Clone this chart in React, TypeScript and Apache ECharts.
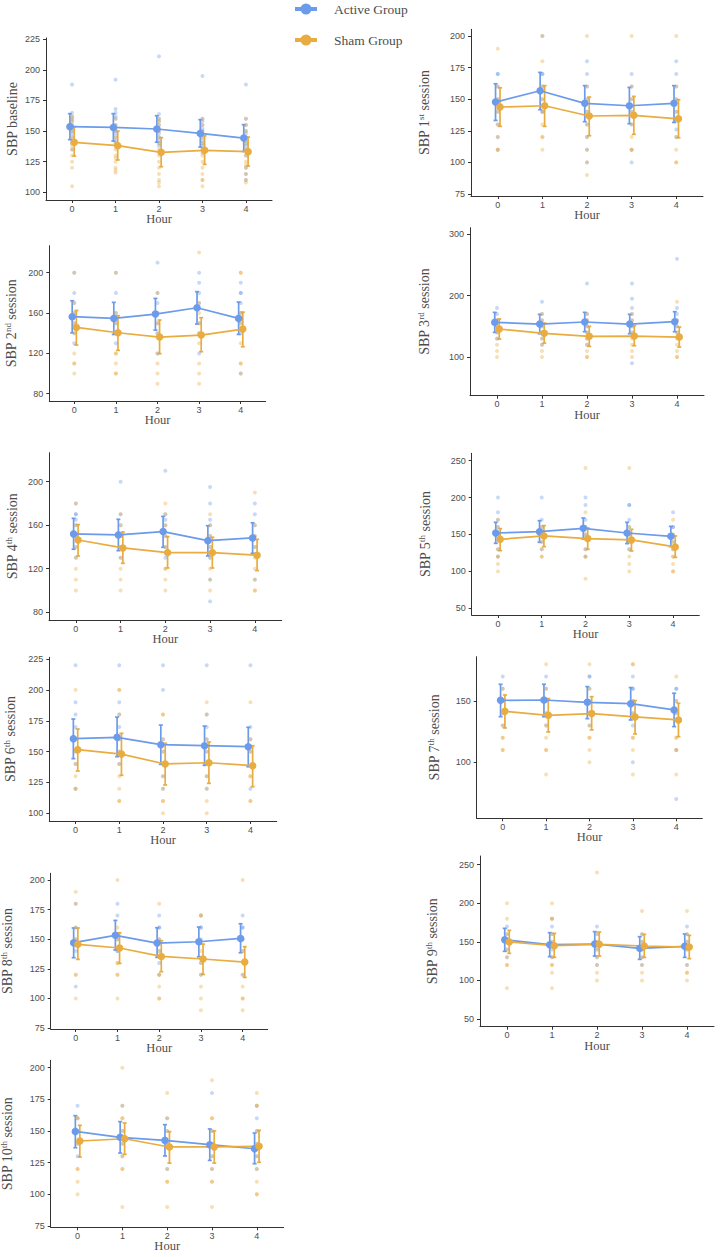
import React, { useEffect, useRef } from 'react';
import * as echarts from 'echarts';

// ---------- DATA ----------
const hours = [0, 1, 2, 3, 4];

const yTitles = [
  '{t|SBP baseline}',
  '{t|SBP 1}{s|st}{t| session}',
  '{t|SBP 2}{s|nd}{t| session}',
  '{t|SBP 3}{s|rd}{t| session}',
  '{t|SBP 4}{s|th}{t| session}',
  '{t|SBP 5}{s|th}{t| session}',
  '{t|SBP 6}{s|th}{t| session}',
  '{t|SBP 7}{s|th}{t| session}',
  '{t|SBP 8}{s|th}{t| session}',
  '{t|SBP 9}{s|th}{t| session}',
  '{t|SBP 10}{s|th}{t| session}',
];

const yTickValues = [
  [100, 125, 150, 175, 200, 225],
  [75, 100, 125, 150, 175, 200],
  [80, 120, 160, 200],
  [100, 200, 300],
  [80, 120, 160, 200],
  [50, 100, 150, 200, 250],
  [100, 125, 150, 175, 200, 225],
  [100, 150],
  [75, 100, 125, 150, 175, 200],
  [50, 100, 150, 200, 250],
  [75, 100, 125, 150, 175, 200],
];

const yRanges = [
  [93.7, 226],
  [73.4, 205.3],
  [72.8, 226.8],
  [37, 310.8],
  [72.9, 226.6],
  [40.9, 260],
  [93.8, 226.4],
  [54.3, 186.1],
  [74.2, 205.7],
  [40, 261.3],
  [74, 205.8],
];

const activeMean = [
  [153.6, 153.0, 151.7, 148.1, 144.3],
  [147.7, 156.7, 146.7, 144.8, 146.7],
  [156.4, 154.7, 159.0, 165.3, 154.7],
  [156.5, 153.8, 157.1, 153.8, 157.6],
  [152.0, 151.1, 154.1, 145.8, 148.3],
  [152.0, 153.8, 158.4, 152.0, 147.5],
  [160.5, 161.6, 155.6, 154.8, 154.0],
  [150.5, 150.8, 148.9, 147.8, 142.7],
  [147.1, 153.3, 146.8, 147.9, 150.7],
  [152.8, 146.3, 147.2, 141.6, 144.2],
  [149.7, 145.0, 142.6, 139.2, 136.0],
];
const activeHigh = [
  [164.2, 164.2, 162.5, 159.3, 155.2],
  [162.2, 171.2, 160.7, 159.3, 160.7],
  [172.2, 170.6, 174.5, 181.2, 170.9],
  [172.8, 169.6, 172.8, 169.6, 173.9],
  [166.3, 165.4, 168.1, 159.5, 162.2],
  [166.5, 168.7, 172.3, 166.5, 161.0],
  [176.4, 178.0, 171.5, 170.7, 169.7],
  [163.6, 163.6, 161.7, 160.9, 156.3],
  [159.5, 165.9, 159.7, 160.3, 163.1],
  [167.5, 161.9, 163.2, 156.7, 160.2],
  [162.1, 157.4, 155.0, 151.6, 148.4],
];
const activeLow = [
  [143.0, 141.8, 140.9, 136.9, 133.4],
  [133.2, 141.7, 132.2, 130.6, 131.6],
  [140.4, 138.8, 143.1, 149.1, 138.8],
  [140.2, 138.0, 141.3, 138.0, 141.3],
  [137.9, 136.6, 139.7, 131.7, 134.2],
  [138.0, 139.4, 143.9, 137.6, 133.5],
  [144.3, 145.9, 139.7, 138.9, 137.8],
  [137.2, 137.2, 135.6, 134.5, 129.1],
  [134.4, 140.9, 134.7, 135.2, 138.6],
  [137.7, 130.8, 131.6, 127.3, 129.9],
  [136.8, 132.6, 130.3, 126.8, 124.2],
];

const shamMean = [
  [140.8, 138.1, 132.6, 134.3, 133.2],
  [143.8, 144.8, 136.7, 137.2, 134.5],
  [145.8, 140.5, 136.2, 138.2, 144.1],
  [145.7, 138.6, 133.7, 134.2, 132.6],
  [146.4, 139.1, 134.8, 134.8, 132.4],
  [143.5, 148.0, 144.4, 142.6, 133.1],
  [151.6, 148.0, 140.0, 141.0, 138.6],
  [141.6, 138.3, 139.7, 137.0, 134.5],
  [145.7, 142.6, 135.5, 133.3, 130.7],
  [149.8, 145.0, 146.8, 144.6, 143.3],
  [142.1, 143.9, 137.4, 137.4, 137.9],
];
const shamHigh = [
  [153.6, 150.0, 144.6, 146.2, 145.1],
  [159.0, 160.7, 151.7, 152.2, 149.6],
  [162.6, 157.4, 153.1, 155.4, 160.9],
  [162.0, 155.4, 150.0, 151.1, 148.9],
  [160.5, 153.8, 149.5, 148.9, 147.0],
  [157.9, 162.0, 158.8, 157.0, 148.0],
  [168.3, 164.8, 156.7, 157.8, 154.8],
  [154.9, 151.9, 153.5, 150.3, 148.1],
  [159.5, 155.5, 148.8, 145.9, 143.7],
  [164.9, 161.0, 162.7, 159.7, 158.4],
  [154.5, 156.3, 149.5, 150.0, 150.5],
];
const shamLow = [
  [129.6, 126.4, 120.9, 122.8, 121.5],
  [128.5, 128.5, 121.1, 122.2, 119.5],
  [128.3, 123.0, 119.7, 121.7, 126.6],
  [129.3, 122.8, 117.4, 118.5, 116.3],
  [131.7, 125.0, 120.7, 120.7, 118.3],
  [128.1, 133.5, 129.9, 127.7, 119.0],
  [134.3, 130.8, 123.0, 124.3, 121.6],
  [128.0, 124.7, 126.4, 123.1, 120.9],
  [133.0, 129.6, 122.6, 120.3, 117.8],
  [135.1, 129.9, 131.6, 129.9, 128.2],
  [129.5, 131.6, 124.7, 124.7, 125.3],
];

// individual readings per panel, per hour
const activeRaw = [
  [
    [188, 165, 162, 160, 158, 155, 152, 150, 148, 145, 142, 140, 135],
    [192, 168, 165, 162, 160, 155, 152, 150, 148, 145, 142, 140],
    [211, 164, 160, 158, 155, 152, 150, 148, 145, 142, 140, 138],
    [195, 160, 158, 155, 152, 150, 148, 145, 142, 140, 138, 135, 132],
    [188, 160, 155, 150, 148, 145, 142, 140, 138, 135, 130, 120, 115, 110],
  ],
  [
    [170, 170, 160, 150, 140, 130, 120, 110],
    [200, 170, 170, 160, 150, 140, 140],
    [180, 170, 160, 150, 140, 130, 120, 110, 100],
    [170, 160, 150, 140, 130, 110, 100],
    [180, 170, 160, 150, 140, 133, 126, 120],
  ],
  [
    [200, 180, 170, 160, 150, 140, 130],
    [200, 180, 160, 150, 130],
    [210, 180, 170, 160, 150, 140, 120],
    [200, 190, 180, 170, 150, 140, 120],
    [190, 180, 180, 170, 160, 150, 140, 100],
  ],
  [
    [180, 170, 160, 150, 140, 130],
    [190, 170, 160, 150, 140, 130, 120],
    [220, 170, 160, 150, 140, 130, 120],
    [220, 195, 180, 170, 160, 150, 140, 90],
    [260, 180, 170, 160, 150, 140],
  ],
  [
    [180, 170, 170, 165, 160, 150, 140, 130],
    [200, 170, 160, 150, 140, 130],
    [210, 170, 165, 160, 150, 140, 130],
    [195, 180, 165, 160, 150, 140, 130, 110, 90],
    [180, 170, 160, 150, 140, 110],
  ],
  [
    [200, 180, 170, 160, 150, 130, 120],
    [200, 170, 160, 150, 140, 130],
    [200, 190, 170, 160, 150, 130, 120],
    [190, 190, 170, 160, 150, 140, 130],
    [180, 160, 160, 150, 140, 130],
  ],
  [
    [220, 190, 180, 170, 160, 150, 140, 120],
    [220, 190, 180, 170, 160, 150, 140],
    [220, 200, 160, 150, 130, 120],
    [220, 180, 170, 160, 150, 130, 120],
    [220, 170, 160, 150, 120],
  ],
  [
    [170, 160, 150, 140, 130],
    [170, 160, 150, 140, 130],
    [170, 170, 160, 150, 140, 130],
    [170, 160, 160, 150, 140, 130, 100],
    [160, 160, 150, 140, 110, 70],
  ],
  [
    [180, 160, 150, 140, 110],
    [180, 170, 150, 140, 140],
    [170, 160, 160, 150, 140, 130, 120],
    [170, 160, 160, 150, 130, 120],
    [170, 160, 160, 150, 140, 120],
  ],
  [
    [170, 160, 150, 140, 130],
    [180, 170, 160, 150, 140, 130],
    [170, 160, 150, 140, 130, 120],
    [160, 150, 140, 130, 120],
    [170, 160, 150, 140, 120],
  ],
  [
    [170, 160, 150, 140, 130],
    [170, 150, 140, 130],
    [160, 150, 140, 120],
    [180, 150, 140, 130, 120],
    [170, 160, 150, 140, 130, 120],
  ],
];

const shamRaw = [
  [
    [162, 160, 158, 155, 150, 145, 140, 138, 135, 130, 125, 120, 105],
    [160, 155, 150, 145, 140, 135, 130, 128, 125, 120, 118, 116],
    [160, 158, 155, 150, 145, 140, 135, 130, 125, 120, 115, 110, 108, 105],
    [160, 155, 150, 145, 140, 135, 130, 125, 120, 115, 110, 110, 105],
    [160, 155, 150, 145, 140, 135, 130, 125, 122, 120, 115, 110, 108],
  ],
  [
    [190, 160, 150, 140, 130, 120, 110, 110],
    [200, 180, 160, 150, 140, 130, 120, 120, 110],
    [200, 160, 150, 140, 130, 120, 110, 100, 90],
    [200, 160, 150, 140, 130, 120, 110, 110],
    [200, 160, 150, 140, 120, 110, 100, 100],
  ],
  [
    [200, 170, 160, 150, 140, 120, 110, 110, 100],
    [200, 160, 150, 140, 120, 120, 110, 100, 100],
    [180, 160, 150, 140, 120, 110, 100, 90],
    [220, 170, 160, 150, 140, 130, 110, 100, 90],
    [200, 200, 160, 150, 130, 110, 110, 100],
  ],
  [
    [160, 150, 140, 130, 120, 110, 100],
    [170, 160, 150, 140, 130, 120, 110, 100],
    [170, 160, 150, 140, 130, 120, 110, 100, 100],
    [170, 160, 150, 140, 130, 120, 110, 100],
    [190, 160, 150, 140, 130, 120, 110, 100, 100],
  ],
  [
    [180, 160, 150, 140, 130, 120, 110, 100],
    [170, 160, 150, 140, 130, 120, 110, 100],
    [180, 170, 160, 150, 140, 120, 120, 110, 100],
    [170, 160, 150, 140, 130, 120, 110, 100],
    [190, 160, 150, 140, 130, 120, 110, 100, 100],
  ],
  [
    [170, 160, 150, 130, 120, 120, 110, 100],
    [160, 150, 140, 130, 120, 120],
    [240, 180, 160, 150, 130, 120, 120, 90],
    [240, 160, 150, 140, 130, 120, 110, 100],
    [170, 150, 140, 130, 120, 120, 110, 100, 100],
  ],
  [
    [200, 160, 150, 140, 130, 120, 120],
    [200, 200, 180, 160, 150, 140, 130, 120, 110, 110],
    [180, 180, 160, 150, 130, 120, 110, 110, 100],
    [190, 180, 160, 150, 130, 120, 110, 100],
    [190, 160, 150, 130, 130, 110, 110],
  ],
  [
    [160, 150, 140, 130, 120, 120, 110, 110],
    [180, 160, 150, 140, 130, 120, 110, 110, 90],
    [180, 160, 150, 140, 130, 120, 120, 110, 100],
    [180, 180, 150, 140, 120, 120, 110, 90],
    [170, 150, 140, 120, 120, 110, 110, 90],
  ],
  [
    [190, 180, 160, 150, 120, 120, 100],
    [200, 160, 150, 130, 130, 120, 120, 100],
    [180, 150, 140, 120, 120, 110, 100, 100],
    [170, 170, 140, 130, 120, 110, 100, 90],
    [200, 150, 140, 120, 110, 100, 100, 90],
  ],
  [
    [200, 180, 160, 150, 140, 130, 120, 120, 90],
    [200, 180, 180, 160, 150, 130, 120, 120, 110, 90],
    [240, 160, 150, 140, 130, 120, 110, 100],
    [190, 160, 150, 140, 130, 120, 110, 100],
    [190, 160, 150, 140, 120, 110, 110, 100],
  ],
  [
    [160, 160, 150, 140, 120, 120, 110, 100],
    [200, 170, 160, 160, 150, 140, 130, 120, 120, 90],
    [180, 160, 150, 140, 120, 110, 110, 90],
    [190, 160, 160, 150, 140, 130, 120, 110, 110, 90],
    [180, 170, 170, 150, 140, 130, 120, 110, 100, 100],
  ],
];

const groupNames = ['Active Group', 'Sham Group'];

// ---------- LAYOUT / STYLE ----------
const gridBoxes = [
  { left: 46, top: 38, width: 226, height: 162, nameGap: 26 },
  { left: 471, top: 29.3, width: 232, height: 166.7, nameGap: 39 },
  { left: 49.3, top: 245.7, width: 216.4, height: 155.3, nameGap: 30 },
  { left: 470, top: 227.7, width: 234, height: 168, nameGap: 38 },
  { left: 49, top: 452.7, width: 232.7, height: 167.3, nameGap: 29 },
  { left: 471.7, top: 453.3, width: 227.6, height: 161.7, nameGap: 38.7 },
  { left: 49.3, top: 657.3, width: 227.4, height: 163.7, nameGap: 31 },
  { left: 476.7, top: 656.7, width: 225.6, height: 161.6, nameGap: 34.7 },
  { left: 50.7, top: 873.3, width: 217, height: 155.7, nameGap: 35 },
  { left: 480, top: 856, width: 234, height: 170.7, nameGap: 40 },
  { left: 50.7, top: 1060.3, width: 233, height: 167, nameGap: 35 },
];

const BLUE = '#6C9BEB';
const ORANGE = '#E9AC41';
const AXIS = '#333333';
const TEXT = '#4d4d4d';
const SERIF = "'Liberation Serif', 'Times New Roman', serif";
const SANS = "'Liberation Sans', Arial, sans-serif";
const DODGE = 0.05;

const legendIcon =
  'path://M0,3.5H22V7.5H0Z M5.5,5.5A5.5,5.5 0 1 1 16.5,5.5A5.5,5.5 0 1 1 5.5,5.5Z';

function errorBarRender(color: string) {
  return (params: any, api: any) => {
    const x = api.value(0);
    const lo = api.value(1);
    const hi = api.value(2);
    const a = api.coord([x, lo]);
    const b = api.coord([x, hi]);
    const w = 2;
    const style = { stroke: color, lineWidth: 1.7 };
    return {
      type: 'group',
      children: [
        { type: 'line', shape: { x1: a[0], y1: a[1], x2: b[0], y2: b[1] }, style },
        { type: 'line', shape: { x1: a[0] - w, y1: a[1], x2: a[0] + w, y2: a[1] }, style },
        { type: 'line', shape: { x1: b[0] - w, y1: b[1], x2: b[0] + w, y2: b[1] }, style },
      ],
    };
  };
}

function buildOption() {
  const grid: any[] = [];
  const xAxis: any[] = [];
  const yAxis: any[] = [];
  const series: any[] = [];

  gridBoxes.forEach((g, i) => {
    grid.push({
      left: g.left,
      top: g.top,
      width: g.width,
      height: g.height,
      containLabel: false,
      outerBoundsMode: 'none',
    });
    xAxis.push({
      type: 'value',
      gridIndex: i,
      min: -0.6,
      max: 4.6,
      name: 'Hour',
      nameLocation: 'middle',
      nameGap: 13,
      nameMoveOverlap: false,
      nameTextStyle: { fontFamily: SERIF, fontSize: 12.5, color: TEXT, lineHeight: 12 },
      axisLine: { show: true, onZero: false, lineStyle: { color: AXIS, width: 1 } },
      axisTick: { show: true, length: 3, customValues: hours, lineStyle: { color: AXIS } },
      axisLabel: {
        customValues: hours,
        margin: 4.5,
        fontFamily: SANS,
        fontSize: 9,
        lineHeight: 8,
        color: TEXT,
      },
      splitLine: { show: false },
    });
    yAxis.push({
      type: 'value',
      gridIndex: i,
      min: yRanges[i][0],
      max: yRanges[i][1],
      name: yTitles[i],
      nameLocation: 'middle',
      nameGap: g.nameGap,
      nameMoveOverlap: false,
      nameTextStyle: {
        fontFamily: SERIF,
        fontSize: 14,
        color: TEXT,
        rich: {
          t: { fontFamily: SERIF, fontSize: 14, color: TEXT, lineHeight: 16 },
          s: { fontFamily: SERIF, fontSize: 9, color: TEXT, lineHeight: 9, verticalAlign: 'top' },
        },
      },
      axisLine: { show: true, onZero: false, lineStyle: { color: AXIS, width: 1 } },
      axisTick: { show: true, length: 3, customValues: yTickValues[i], lineStyle: { color: AXIS } },
      axisLabel: {
        customValues: yTickValues[i],
        margin: 6,
        fontFamily: SANS,
        fontSize: 9,
        color: TEXT,
      },
      splitLine: { show: false },
    });

    const groups = [
      { name: groupNames[0], color: BLUE, mean: activeMean[i], lo: activeLow[i], hi: activeHigh[i], raw: activeRaw[i], off: -DODGE },
      { name: groupNames[1], color: ORANGE, mean: shamMean[i], lo: shamLow[i], hi: shamHigh[i], raw: shamRaw[i], off: DODGE },
    ];

    groups.forEach((grp) => {
      const pts: number[][] = [];
      grp.raw.forEach((vals, h) => vals.forEach((v) => pts.push([hours[h], v])));
      series.push({
        type: 'scatter',
        name: grp.name + ' (individual)',
        xAxisIndex: i,
        yAxisIndex: i,
        data: pts,
        symbol: 'circle',
        symbolSize: 4,
        itemStyle: { color: grp.color, opacity: 0.38 },
        silent: true,
      });
    });

    groups.forEach((grp) => {
      series.push({
        type: 'custom',
        name: grp.name + ' (error)',
        xAxisIndex: i,
        yAxisIndex: i,
        renderItem: errorBarRender(grp.color),
        encode: { x: 0, y: [1, 2] },
        data: hours.map((h, k) => [h + grp.off, grp.lo[k], grp.hi[k]]),
        silent: true,
      });
      series.push({
        type: 'line',
        name: grp.name,
        xAxisIndex: i,
        yAxisIndex: i,
        data: hours.map((h, k) => [h + grp.off, grp.mean[k]]),
        symbol: 'circle',
        symbolSize: 7.5,
        showSymbol: true,
        itemStyle: { color: grp.color },
        lineStyle: { color: grp.color, width: 1.7 },
      });
    });
  });

  return {
    animation: false,
    backgroundColor: '#ffffff',
    legend: {
      orient: 'vertical',
      left: 295,
      top: 1,
      padding: 0,
      itemWidth: 22,
      itemHeight: 11,
      itemGap: 15,
      icon: legendIcon,
      textStyle: {
        fontFamily: SERIF,
        fontSize: 13.5,
        color: TEXT,
        lineHeight: 16,
        padding: [0, 0, 0, 12],
      },
      data: [
        { name: groupNames[0], itemStyle: { color: BLUE } },
        { name: groupNames[1], itemStyle: { color: ORANGE } },
      ],
    },
    grid,
    xAxis,
    yAxis,
    series,
  };
}

export default function App() {
  const ref = useRef<HTMLDivElement>(null);
  useEffect(() => {
    document.body.style.margin = '0';
    const chart = echarts.init(ref.current as HTMLDivElement, null, { renderer: 'svg' });
    chart.setOption(buildOption() as any);
    return () => chart.dispose();
  }, []);
  return <div ref={ref} style={{ width: 721, height: 1257 }} />;
}
